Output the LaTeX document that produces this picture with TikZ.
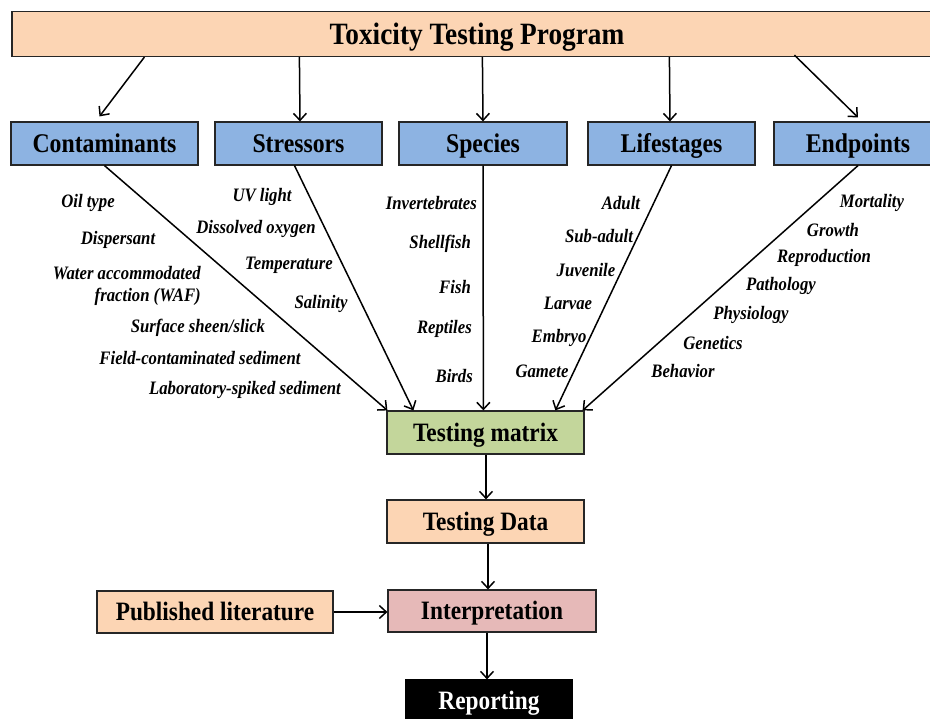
\documentclass[tikz,border=0pt]{standalone}
\usepackage{fontspec}
\setmainfont[FakeStretch=0.88]{Liberation Serif}
\usetikzlibrary{arrows.meta,calc}
\definecolor{peach}{HTML}{FCD5B4}
\definecolor{catblue}{HTML}{8DB3E2}
\definecolor{matgreen}{HTML}{C3D69B}
\definecolor{interpink}{HTML}{E6B9B8}
\tikzset{
  box/.style={draw=black!85, line width=1.2pt, inner sep=0pt, minimum height=43pt,
              text height=17.8pt, text depth=0pt},
  cat/.style={box, fill=catblue, font=\fontsize{27}{29}\selectfont\bfseries},
  flow/.style={box, font=\fontsize{26.5}{28}\selectfont\bfseries, text height=17.5pt},
  lbl/.style={font=\fontsize{19}{21}\selectfont\bfseries\itshape, inner sep=0pt},
  arr/.style={line width=1.5pt, -{Straight Barb[length=7pt,width=13pt,line width=1.5pt]}}
}
\begin{document}
\begin{tikzpicture}[x=1pt,y=-1pt]
\useasboundingbox (0,0) rectangle (930,719);
\clip (0,0) rectangle (930,719);
\fill[white] (0,0) rectangle (930,719);

% title
\node[box, fill=peach, minimum width=930pt, minimum height=45pt, text height=20.5pt,
      font=\fontsize{31}{33}\selectfont\bfseries] (title) at (477,34) {Toxicity Testing Program};

% categories
\node[cat, minimum width=187pt] (cont) at (104.5,143.5) {Contaminants};
\node[cat, minimum width=167pt] (stress) at (298.5,143.5) {Stressors};
\node[cat, minimum width=168pt] (spec) at (483,143.5) {Species};
\node[cat, minimum width=167pt] (life) at (671.5,143.5) {Lifestages};
\node[cat, minimum width=168pt] (endp) at (858,143.5) {Endpoints};

% flow boxes
\node[flow, fill=matgreen, minimum width=197pt] (tm) at (485.5,432.5) {Testing matrix};
\node[flow, fill=peach, minimum width=197pt] (td) at (485.5,521.5) {Testing Data};
\node[flow, fill=interpink, minimum width=208pt, minimum height=42pt] (interp) at (492,611) {Interpretation};
\node[flow, fill=peach, minimum width=236pt, minimum height=42pt] (pub) at (215,612) {Published literature};
\node[box, fill=black, draw=black, text=white, minimum width=166pt, minimum height=42pt,
      text height=17.5pt, font=\fontsize{26.5}{28}\selectfont\bfseries] (rep) at (489,701) {Reporting};

% title -> categories
\draw[arr] ([xshift=133pt]title.south west) -- ([xshift=-5pt,yshift=5pt]cont.north);
\draw[arr] ([xshift=288pt]title.south west) -- ([xshift=1.5pt]stress.north);
\draw[arr] ([xshift=471pt]title.south west) -- (spec.north);
\draw[arr] ([xshift=658pt]title.south west) -- ([xshift=-1.5pt]life.north);
\draw[arr] ([xshift=783pt,yshift=2pt]title.south west) -- ([yshift=4pt]endp.north);

% categories -> testing matrix
\coordinate (t1) at ([xshift=1pt]tm.north west);
\coordinate (t2) at ([xshift=27pt]tm.north west);
\coordinate (t3) at ([xshift=97pt]tm.north west);
\coordinate (t4) at ([xshift=169pt]tm.north west);
\coordinate (t5) at ([xshift=-2pt]tm.north east);
\draw[arr] (cont.south) -- (t1);
\draw[arr] ([xshift=-4pt]stress.south) -- (t2);
\draw[arr] (spec.south) -- (t3);
\draw[arr] (life.south) -- (t4);
\draw[arr] (endp.south) -- (t5);

% flow arrows
\draw[arr] ([xshift=0.5pt]tm.south) -- ([xshift=0.5pt]td.north);
\draw[arr] ([xshift=2.5pt]td.south) -- ([xshift=-4pt]interp.north);
\draw[arr] (pub.east) -- (pub.east -| interp.west);
\draw[arr] ([xshift=-5pt]interp.south) -- ([xshift=-2pt]rep.north);

% contaminants labels
\node[lbl] (c1) at (88,203) {Oil type};
\node[lbl] (c2) at (118,240) {Dispersant};
\node[lbl, align=right, anchor=east, font=\fontsize{19}{21.5}\selectfont\bfseries\itshape] (c3) at (201,286) {Water accommodated\\fraction (WAF)};
\node[lbl] (c4) at (198,328) {Surface sheen/slick};
\node[lbl] (c5) at (200,358) {Field-contaminated sediment};
\node[lbl] (c6) at (245,390) {Laboratory-spiked sediment};

% stressors labels
\node[lbl] (s1) at (262,197) {UV light};
\node[lbl] (s2) at (256,229) {Dissolved oxygen};
\node[lbl] (s3) at (289,265) {Temperature};
\node[lbl] (s4) at (321,304) {Salinity};

% species labels
\node[lbl, anchor=east] (p1) at (477,203) {Invertebrates};
\node[lbl, anchor=east] (p2) at (471,244) {Shellfish};
\node[lbl, anchor=east] (p3) at (471,287) {Fish};
\node[lbl, anchor=east] (p4) at (472,329) {Reptiles};
\node[lbl, anchor=east] (p5) at (473,376) {Birds};

% lifestages labels
\node[lbl] (l1) at (621,203) {Adult};
\node[lbl] (l2) at (599,236) {Sub-adult};
\node[lbl] (l3) at (586,270) {Juvenile};
\node[lbl] (l4) at (568,303) {Larvae};
\node[lbl] (l5) at (559,338) {Embryo};
\node[lbl] (l6) at (542,371) {Gamete};

% endpoints labels
\node[lbl] (e1) at (872,203) {Mortality};
\node[lbl] (e2) at (833,230) {Growth};
\node[lbl] (e3) at (824,258) {Reproduction};
\node[lbl] (e4) at (781,286) {Pathology};
\node[lbl] (e5) at (751,315) {Physiology};
\node[lbl] (e6) at (713,343) {Genetics};
\node[lbl] (e7) at (683,371) {Behavior};
\end{tikzpicture}
\end{document}
